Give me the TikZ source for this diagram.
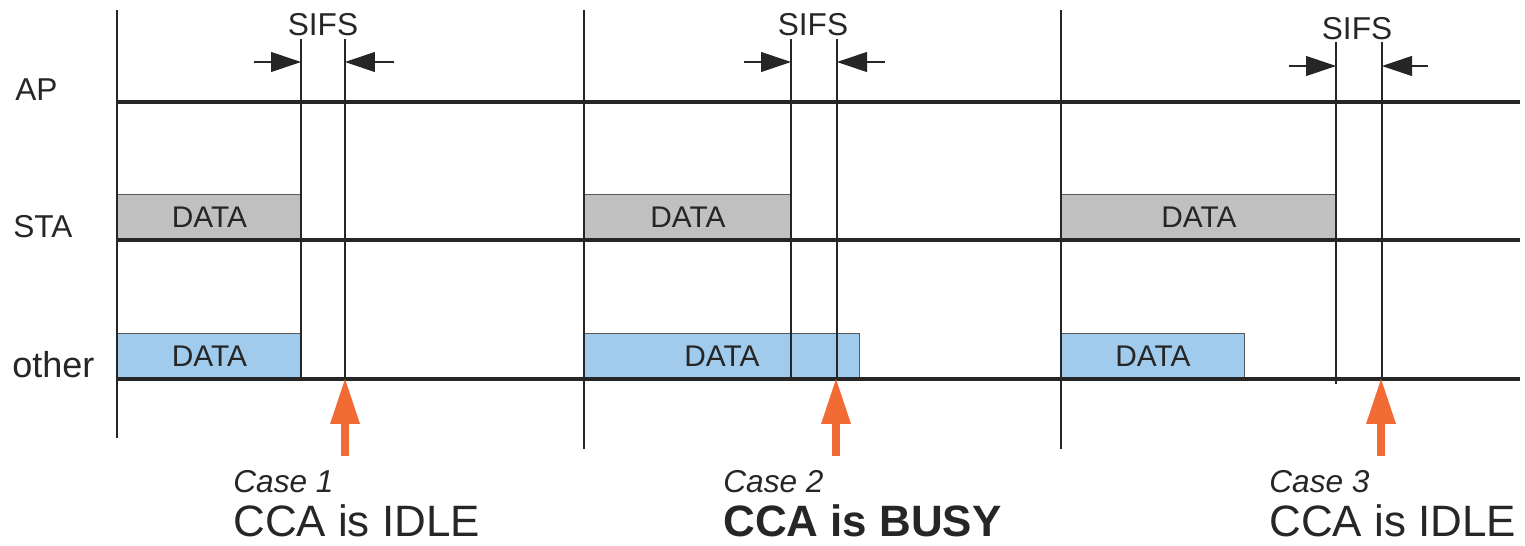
\documentclass[tikz,border=0pt]{standalone}
\usepackage{fontspec}
\setmainfont{Liberation Sans}
\usepackage{tikz}
\usetikzlibrary{positioning,arrows.meta}
\definecolor{ink}{HTML}{262626}
\definecolor{stagray}{HTML}{C0C0C0}
\definecolor{otherblue}{HTML}{A0CBED}
\definecolor{ccaorange}{HTML}{F26B35}
\tikzset{
	timeline/.style={draw=ink, line width=2.3pt},
	tick/.style={draw=ink, line width=0.6pt},
	frame/.style={draw=black!65, line width=0.6pt, minimum height=0.9cm, anchor=south west, inner sep=0pt, text=ink, font=\fontsize{17}{17}\selectfont},
	stabox/.style={frame, fill=stagray},
	otherbox/.style={frame, fill=otherblue},
	sifs/.style={draw=ink, line width=0.6pt, -{Triangle[length=0.6cm, width=0.4cm]}},
	cca/.style={draw=ccaorange, line width=4.5pt, -{Triangle[length=0.9cm, width=0.6cm, line width=0pt]}},
	station/.style={text=ink, font=\fontsize{18}{18}\selectfont, anchor=base west, inner sep=0pt},
	sifslabel/.style={text=ink, font=\fontsize{18}{18}\selectfont, anchor=base, inner sep=0pt},
	caselabel/.style={text=ink, font=\fontsize{18}{18}\selectfont\itshape, anchor=base west, inner sep=0pt},
	ccalabel/.style={text=ink, font=\fontsize{25}{25}\selectfont, anchor=base west, inner sep=0pt}
}
\begin{document}
\begin{tikzpicture}[x=0.02cm, y=-0.02cm]
	\useasboundingbox (0,0) rectangle (1525,545);

	% stations
	\node[station] (ap) at (15,100) {AP};
	\node[station] (sta) at (13,237) {STA};
	\node[station, font=\fontsize{20.5}{20.5}\selectfont] (other) at (12,377) {other};

	\coordinate (ap-w) at (116,102);
	\coordinate (ap-e) at (1520,102);
	\coordinate (sta-w) at (116,240);
	\coordinate (sta-e) at (1520,240);
	\coordinate (other-w) at (116,379);
	\coordinate (other-e) at (1520,379);

	% frames on the air
	\node[stabox, minimum width=3.68cm] (sta1) at (117,240) {DATA};
	\node[otherbox, minimum width=3.68cm] (oth1) at (117,379) {DATA};
	\node[stabox, minimum width=4.14cm] (sta2) at (584,240) {DATA};
	\node[otherbox, minimum width=5.5cm] (oth2) at (584,379) {DATA};
	\node[stabox, minimum width=5.5cm] (sta3) at (1061,240) {DATA};
	\node[otherbox, minimum width=3.66cm] (oth3) at (1061,379) {DATA};

	\draw[timeline] (ap-w) -- (ap-e);
	\draw[timeline] (sta-w) -- (sta-e);
	\draw[timeline] (other-w) -- (other-e);

	% Case 1
	\coordinate (c1-top) at (117,10);
	\coordinate (c1-bot) at (117,438);
	\coordinate (c1-s) at (301,39);
	\coordinate (c1-e) at (345,39);
	\coordinate (c1-l) at (254,62);
	\coordinate (c1-r) at (394,62);
	\coordinate (c1-cca) at (345,456);
	\draw[tick] (c1-top) -- (c1-bot);
	\draw[tick] (c1-s) -- (c1-s |- other-w);
	\draw[tick] (c1-e) -- (c1-e |- other-w);
	\draw[sifs] (c1-l) -- (c1-l -| c1-s);
	\draw[sifs] (c1-r) -- (c1-r -| c1-e);
	\node[sifslabel] (sifs1) at (323,35) {SIFS};
	\draw[cca] (c1-cca) -- (c1-cca |- other-w);
	\node[caselabel] (case1) at (233,492) {Case 1};
	\node[ccalabel] (cca1) at (233,536) {CCA is IDLE};

	% Case 2
	\coordinate (c2-top) at (584,10);
	\coordinate (c2-bot) at (584,449);
	\coordinate (c2-s) at (791,39);
	\coordinate (c2-e) at (837,39);
	\coordinate (c2-l) at (744,62);
	\coordinate (c2-r) at (885,62);
	\coordinate (c2-cca) at (836,456);
	\draw[tick] (c2-top) -- (c2-bot);
	\draw[tick] (c2-s) -- (c2-s |- other-w);
	\draw[tick] (c2-e) -- (c2-e |- other-w);
	\draw[sifs] (c2-l) -- (c2-l -| c2-s);
	\draw[sifs] (c2-r) -- (c2-r -| c2-e);
	\node[sifslabel] (sifs2) at (813,35) {SIFS};
	\draw[cca] (c2-cca) -- (c2-cca |- other-w);
	\node[caselabel] (case2) at (723,492) {Case 2};
	\node[ccalabel, font=\fontsize{25}{25}\selectfont\bfseries] (cca2) at (723,536) {CCA is BUSY};

	% Case 3
	\coordinate (c3-top) at (1061,10);
	\coordinate (c3-bot) at (1061,449);
	\coordinate (c3-s) at (1336,42);
	\coordinate (c3-e) at (1382,42);
	\coordinate (c3-l) at (1289,66);
	\coordinate (c3-r) at (1428,66);
	\coordinate (c3-cca) at (1381,456);
	\draw[tick] (c3-top) -- (c3-bot);
	\draw[tick] (c3-s) -- ++(0,342);
	\draw[tick] (c3-e) -- (c3-e |- other-w);
	\draw[sifs] (c3-l) -- (c3-l -| c3-s);
	\draw[sifs] (c3-r) -- (c3-r -| c3-e);
	\node[sifslabel] (sifs3) at (1357,39) {SIFS};
	\draw[cca] (c3-cca) -- (c3-cca |- other-w);
	\node[caselabel] (case3) at (1269,492) {Case 3};
	\node[ccalabel] (cca3) at (1269,536) {CCA is IDLE};
\end{tikzpicture}
\end{document}
